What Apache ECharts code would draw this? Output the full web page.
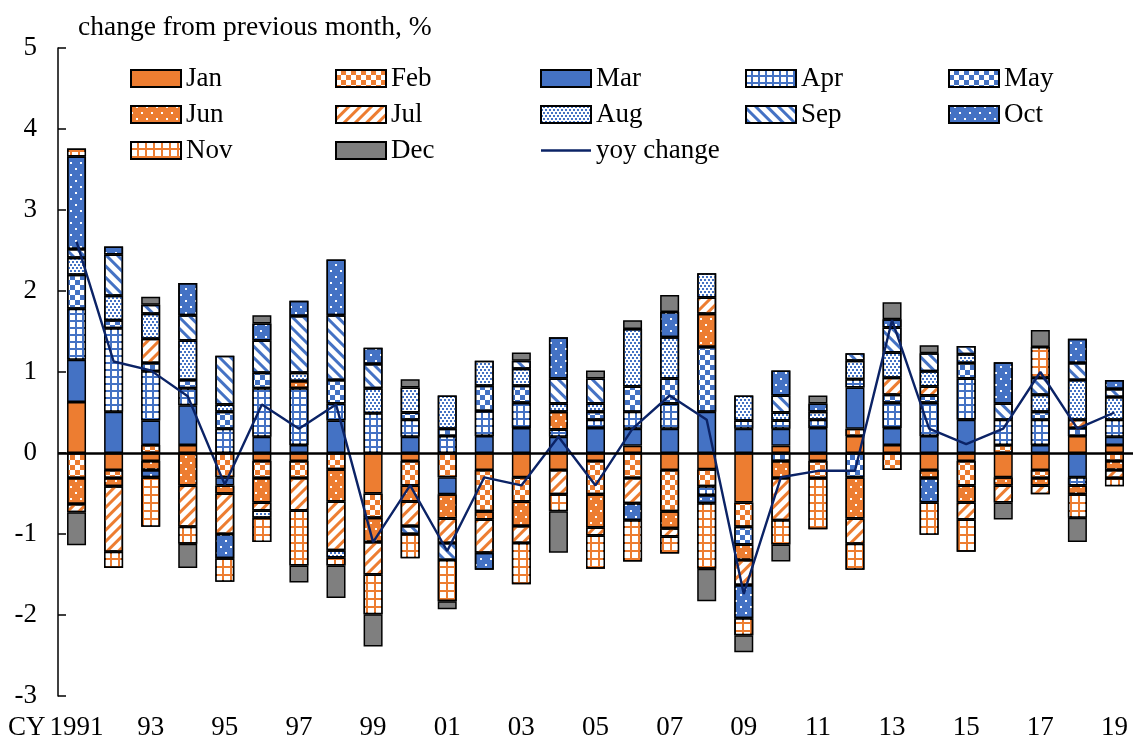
<!DOCTYPE html>
<html>
<head>
<meta charset="utf-8">
<script src="https://cdn.jsdelivr.net/npm/echarts@6/dist/echarts.min.js"></script>
<style>
  html, body { margin: 0; padding: 0; background: #fff; }
  #chart { width: 1136px; height: 744px; }
</style>
</head>
<body>
<div id="chart"></div>
<script>
// calendar years (tick labels)
var years = ['1991', '92', '93', '94', '95', '96', '97', '98', '99', '00',
  '01', '02', '03', '04', '05', '06', '07', '08', '09', '10',
  '11', '12', '13', '14', '15', '16', '17', '18', '19'];

// month-on-month contributions, %, 1991..2019
var jan = [0.63, -0.21, -0.10, 0.10, 0, -0.10, -0.10, 0, -0.50, -0.10, 0, -0.21, -0.30, -0.21, -0.10, 0.09, -0.21, -0.20, -0.61, 0.09, -0.10, 0.21, 0.10, -0.21, -0.10, -0.30, -0.21, 0.21, 0.10];
var feb = [-0.31, -0.10, 0.10, 0, -0.30, -0.21, -0.21, -0.20, -0.30, -0.30, -0.30, -0.51, -0.30, 0, -0.41, -0.31, -0.51, -0.21, -0.30, 0, -0.21, 0.09, -0.21, 0, -0.30, 0.10, -0.10, 0, -0.10];
var mar = [0.52, 0.51, 0.30, 0.49, -0.10, 0.20, 0.10, 0.40, 0, 0.20, -0.21, 0.21, 0.31, 0.20, 0.31, 0.21, 0.30, 0.51, 0.30, 0.21, 0.31, 0.51, 0.21, 0.21, 0.41, 0, 0.10, -0.30, 0.10];
var apr = [0.63, 1.03, 0.61, 0.21, 0.30, 0.60, 0.70, 0.21, 0.49, 0.21, 0.21, 0.31, 0.31, 0.09, 0.10, 0.21, 0.31, -0.11, 0.10, 0.10, 0.10, 0.10, 0.31, 0.41, 0.51, 0.31, 0.31, -0.10, 0.21];
var may = [0.42, 0.10, 0.10, 0.10, 0.21, 0.19, 0, 0.29, 0, 0.09, 0.09, 0.31, 0.21, 0, 0.10, 0.31, 0.31, 0.80, -0.22, -0.10, 0, -0.30, 0.10, 0.09, 0.19, 0, 0.10, 0.10, 0];
var jun = [-0.32, -0.10, -0.11, -0.40, -0.10, -0.30, 0.09, -0.40, -0.30, -0.20, -0.30, -0.10, -0.30, 0.22, -0.41, 0, -0.21, 0.41, -0.19, -0.21, 0, -0.51, 0, -0.10, -0.21, -0.10, -0.09, -0.11, -0.11];
var jul = [-0.10, -0.81, 0.30, -0.51, -0.50, -0.10, -0.40, -0.60, -0.40, -0.30, -0.30, -0.41, -0.21, -0.30, -0.10, -0.31, -0.10, 0.20, -0.31, -0.52, 0, -0.31, 0.21, 0.11, -0.21, -0.21, -0.11, 0.10, -0.10];
var aug = [0.21, 0.30, 0.31, 0.49, 0.09, -0.09, 0.10, -0.09, 0.31, 0.31, 0.41, 0.31, 0.21, 0.10, 0.10, 0.71, 0.51, 0.30, 0.31, 0.10, 0.10, 0.23, 0.31, 0.19, 0.11, 0, 0.21, 0.49, 0.28];
var sep = [0.11, 0.51, 0.11, 0.31, 0.60, 0.40, 0.70, 0.80, 0.30, -0.10, -0.21, 0, 0.10, 0.31, 0.31, 0, 0, 0, 0, 0.21, 0, 0.09, 0.31, 0.22, 0.10, 0.20, 0.21, 0.21, 0.10];
var oct = [1.14, 0.10, -0.09, 0.40, -0.30, 0.21, 0.19, 0.69, 0.20, 0, 0, -0.21, 0, 0.51, 0, -0.21, 0.31, -0.10, -0.41, 0.31, 0.10, 0, 0.10, -0.30, 0, 0.51, 0, 0.30, 0.11];
var nov = [0.10, -0.20, -0.61, -0.21, -0.29, -0.30, -0.68, -0.10, -0.49, -0.30, -0.51, 0, -0.51, -0.21, -0.41, -0.51, -0.21, -0.81, -0.21, -0.30, -0.63, -0.32, 0, -0.40, -0.40, 0, 0.38, -0.29, -0.10];
var dec = [-0.41, 0, 0.10, -0.30, 0, 0.10, -0.21, -0.40, -0.40, 0.10, -0.10, 0, 0.10, -0.51, 0.10, 0.11, 0.21, -0.40, -0.21, -0.21, 0.10, 0, 0.21, 0.10, 0, -0.21, 0.21, -0.30, 0];

// year-on-year change, %
var yoy = [2.61, 1.13, 1.02, 0.70, -0.39, 0.60, 0.30, 0.60, -1.10, -0.40, -1.21, -0.30, -0.40, 0.20, -0.40, 0.30, 0.71, 0.41, -1.74, -0.30, -0.22, -0.22, 1.64, 0.30, 0.11, 0.30, 1.00, 0.30, 0.50];

var ORANGE = '#ED7D31', BLUE = '#4472C4', GRAY = '#7F7F7F', WHITE = '#ffffff', NAVY = '#0B2366';
var FONT = 'Liberation Serif';

// patterns
var checker = function (c) {
  return { symbol: 'rect', symbolSize: 1, color: c, dashArrayX: [[5, 5], [0, 5, 5, 0]], dashArrayY: [5, 0], rotation: 0 };
};
var grid = function (n) {
  return { symbol: 'rect', symbolSize: 1, color: WHITE, dashArrayX: [n, 2], dashArrayY: [n, 2], rotation: 0 };
};
var stripes = function (c, rot) {
  return { symbol: 'rect', symbolSize: 1, color: c, dashArrayX: [10, 0], dashArrayY: [3, 5], rotation: rot };
};
var dots = function (c) {
  return { symbol: 'rect', symbolSize: 1, color: c, dashArrayX: [[2, 8], [0, 5, 2, 3]], dashArrayY: [2, 4], rotation: 0 };
};
var fineDots = { symbol: 'rect', symbolSize: 1, color: BLUE, dashArrayX: [[2, 2], [0, 2, 2, 0]], dashArrayY: [2, 1], rotation: 0 };

var months = [
  { name: 'Jan', data: jan, color: ORANGE },
  { name: 'Feb', data: feb, color: WHITE, decal: checker(ORANGE) },
  { name: 'Mar', data: mar, color: BLUE },
  { name: 'Apr', data: apr, color: BLUE, decal: grid(5) },
  { name: 'May', data: may, color: WHITE, decal: checker(BLUE) },
  { name: 'Jun', data: jun, color: ORANGE, decal: dots(WHITE) },
  { name: 'Jul', data: jul, color: WHITE, decal: stripes(ORANGE, -Math.PI / 4) },
  { name: 'Aug', data: aug, color: WHITE, decal: fineDots },
  { name: 'Sep', data: sep, color: WHITE, decal: stripes(BLUE, Math.PI / 4) },
  { name: 'Oct', data: oct, color: BLUE, decal: dots(WHITE) },
  { name: 'Nov', data: nov, color: ORANGE, decal: grid(6) },
  { name: 'Dec', data: dec, color: GRAY }
];

var series = months.map(function (m) {
  var st = { color: m.color, borderColor: '#000', borderWidth: 1.5 };
  if (m.decal) st.decal = m.decal;
  return {
    name: m.name,
    type: 'bar',
    stack: 'm',
    barWidth: 19,
    itemStyle: st,
    emphasis: { disabled: true },
    data: m.data.map(function (v) { return v === 0 ? null : v; })
  };
});

series.push({
  name: 'yoy change',
  type: 'line',
  z: 4,
  symbol: 'none',
  color: NAVY,
  lineStyle: { color: NAVY, width: 2.4 },
  data: yoy,
  markLine: {
    silent: true,
    symbol: 'none',
    label: { show: false },
    lineStyle: { color: '#000', width: 2.5, type: 'solid' },
    data: [{ yAxis: 0 }]
  }
});

// legend in five columns, three rows
var legendText = { fontFamily: FONT, fontSize: 27, color: '#000' };
var cols = [
  { x: 130, items: ['Jan', 'Jun', 'Nov'] },
  { x: 335, items: ['Feb', 'Jul', 'Dec'] },
  { x: 540, items: ['Mar', 'Aug', 'yoy change'] },
  { x: 745, items: ['Apr', 'Sep'] },
  { x: 948, items: ['May', 'Oct'] }
];
var legends = cols.map(function (c) {
  return {
    orient: 'vertical',
    left: c.x,
    top: 65,
    padding: 0,
    itemWidth: 50,
    itemHeight: 17,
    itemGap: 9,
    selectedMode: false,
    textStyle: legendText,
    data: c.items.map(function (n) {
      if (n === 'yoy change') {
        return { name: n, icon: 'path://M0,0 L50,0 L50,2.4 L0,2.4 Z', itemStyle: { color: NAVY, borderWidth: 0 } };
      }
      return { name: n, icon: 'rect' };
    })
  };
});

var myChart = echarts.init(document.getElementById('chart'));
myChart.setOption({
  animation: false,
  backgroundColor: '#fff',
  title: {
    text: 'change from previous month, %',
    left: 73,
    top: 9,
    textStyle: { fontFamily: FONT, fontSize: 27.5, fontWeight: 'normal', color: '#000' }
  },
  legend: legends,
  grid: { left: 58, right: 3, top: 48, bottom: 48, containLabel: false },
  graphic: [{
    type: 'text',
    left: 8,
    top: 714,
    style: { text: 'CY', fontFamily: FONT, fontSize: 27, fill: '#000' }
  }],
  xAxis: {
    type: 'category',
    data: years,
    axisLine: { show: false, onZero: false },
    axisTick: { show: false },
    axisLabel: { interval: 1, margin: 18, fontFamily: FONT, fontSize: 27, color: '#000' },
    splitLine: { show: false }
  },
  yAxis: {
    type: 'value',
    min: -3,
    max: 5,
    interval: 1,
    axisLine: { show: true, lineStyle: { color: '#000', width: 1.5 } },
    axisTick: { show: true, inside: true, length: 8, lineStyle: { color: '#000', width: 1.5 } },
    axisLabel: { margin: 21, fontFamily: FONT, fontSize: 27, color: '#000' },
    splitLine: { show: false }
  },
  series: series
});
</script>
</body>
</html>
